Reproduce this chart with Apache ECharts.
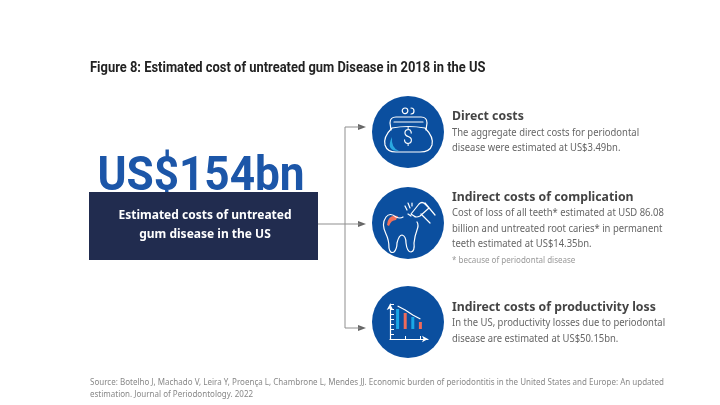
<!DOCTYPE html>
<html>
<head>
<meta charset="utf-8">
<script src="https://cdn.jsdelivr.net/npm/echarts@6/dist/echarts.min.js"></script>
<style>
  html, body { margin: 0; padding: 0; background: #fff; }
  #chart { width: 720px; height: 405px; }
</style>
</head>
<body>
<div id="chart"></div>
<script>
const titleText = "Figure 8: Estimated cost of untreated gum Disease in 2018 in the US";
const totalText = "US$154bn";
const boxLines = ["Estimated costs of untreated", "gum disease in the US"];
const headings = ["Direct costs", "Indirect costs of complication", "Indirect costs of productivity loss"];
const directLines = ["The aggregate direct costs for periodontal", "disease were estimated at US$3.49bn."];
const complicationLines = [
  "Cost of loss of all teeth* estimated at USD 86.08",
  "billion and untreated root caries* in permanent",
  "teeth estimated at US$14.35bn.",
];
const footnoteText = "* because of periodontal disease";
const productivityLines = ["In the US, productivity losses due to periodontal", "disease are estimated at US$50.15bn."];
const sourceLines = [
  "Source: Botelho J, Machado V, Leira Y, Proença L, Chambrone L, Mendes JJ. Economic burden of periodontitis in the United States and Europe: An updated",
  "estimation. Journal of Periodontology. 2022",
];
// the small bar icon in the third circle
const iconCategories = ["", "a", "b", "c", "d", " "];
const iconBars = [null, 20, 16, 12, 7, null];
const iconTrend = [null, 23, 19, 14, 10, null];

const blue = "#0b4f9f";
const navy = "#212c4f";
const bodyFont = "'Noto Sans'";

let shapeCount = 0;

function label(text, x, y, size, color, weight, family, align, squeeze) {
  return {
    type: "text",
    z: 5,
    x: x,
    y: y,
    scaleX: squeeze || 1,
    style: {
      text: text,
      x: 0,
      y: 0,
      fill: color,
      font: (weight || "normal") + " " + size + "px " + (family || bodyFont),
      textAlign: align || "left",
      textVerticalAlign: "middle",
    },
  };
}

function heading(text, y) {
  return label(text, 452, y, 13, "#444", "bold", null, "left", 0.945);
}

function body(text, y) {
  return label(text, 452, y, 10, "#666", "normal", null, "left", 0.945);
}

// graphic has no plain path type, so each svg path gets registered as a shape
function pathShape(d) {
  const name = "iconPath" + shapeCount++;
  echarts.graphic.registerShape(name, echarts.graphic.extendPath(d, {}));
  return name;
}

function stroke(d, color, width) {
  return {
    type: pathShape(d),
    z: 4,
    style: { fill: "none", stroke: color || "#fff", lineWidth: width || 1.2, lineCap: "round", lineJoin: "round" },
  };
}

function solid(d, color) {
  return { type: pathShape(d), z: 3, style: { fill: color } };
}

function arrowHead(y) {
  return solid("M358," + (y - 3) + " L366," + y + " L358," + (y + 3) + " Z", "#666");
}

function circle(cy) {
  return { type: "circle", z: 1, shape: { cx: 408, cy: cy, r: 36 }, style: { fill: blue } };
}

const elements = [
  label(titleText, 90, 68, 14, "#222", "bold", "Roboto", "left", 0.923),

  // big number sits behind the box
  label(totalText, 201, 178, 48, "#1c56a8", "bold", "Roboto", "center", 0.92),
  { type: "rect", z: 6, shape: { x: 89, y: 192, width: 229, height: 68 }, style: { fill: navy } },
  Object.assign(label(boxLines[0], 205, 216, 12, "#fff", "bold", null, "center"), { z: 7 }),
  Object.assign(label(boxLines[1], 205, 235, 12, "#fff", "bold", null, "center"), { z: 7 }),

  // connectors
  stroke("M318,224 L360,224", "#8f8f8f", 1),
  stroke("M360,127 L345,127 L345,328 L360,328", "#8f8f8f", 1),
  arrowHead(127),
  arrowHead(224),
  arrowHead(328),

  circle(132),
  circle(223),
  circle(322),

  // purse icon
  stroke("M405,108 a2.8,2.8 0 1 0 0.1,0 Z M411,108 a3,3 0 0 1 0,6"),
  stroke("M391,130 L390,123 Q390,117 396,117 L421,117 Q427,117 427,123 L426,130 M394,122 L423,122"),
  stroke("M392,128 Q383,137 385,145 Q387,152 396,152 L420,152 Q430,152 432,145 Q434,137 425,128 Q408,125 392,128 Z"),
  solid("M392,137 Q385,151 399,151 Q391,148 392,137 Z", "#2aa9e0"),
  label("$", 408, 139, 21, "#fff", "300", "Roboto", "center", 0.85),

  // tooth icon
  solid("M387,225 Q388,214 398,216 L396,220 Q391,220 389,226 Z", "#f0705a"),
  stroke("M403,217 Q400,219 396,217 Q390,212 386,217 Q381,224 386,234 Q389,240 389,248 Q390,254 394,252 Q397,249 397,243 Q399,235 402,235 Q406,236 406,243 Q407,252 411,252 Q415,251 414,243 Q415,235 417,230 Q419,225 417,222"),
  stroke("M411,214 L419,204 Q422,201 425,204 L429,208 L420,216 Q416,218 414,216 Z M425,203 L435,215 M421,214 L430,223 M408,214 L411,216"),
  stroke("M405,206 L407,210 M408,203 L410,208 M412,203 L412,206"),

  heading(headings[0], 116),
  body(directLines[0], 133),
  body(directLines[1], 148),

  heading(headings[1], 197),
  body(complicationLines[0], 213),
  body(complicationLines[1], 229),
  body(complicationLines[2], 244),
  label(footnoteText, 452, 261, 8, "#999"),

  heading(headings[2], 307),
  body(productivityLines[0], 323),
  body(productivityLines[1], 339),

  label(sourceLines[0], 90, 382, 9, "#888", "normal", null, "left", 0.89),
  label(sourceLines[1], 90, 394, 9, "#888", "normal", null, "left", 0.89),
];

const chart = echarts.init(document.getElementById("chart"));
const option = {
  animation: false,
  backgroundColor: "#fff",
  graphic: { elements: elements },
  grid: { left: 390, width: 38, top: 304, height: 35, containLabel: false },
  xAxis: {
    type: "category",
    z: 3,
    data: iconCategories,
    boundaryGap: false,
    axisLine: { onZero: false, symbol: ["none", "arrow"], symbolSize: [5, 6], lineStyle: { color: "#fff", width: 1.2 } },
    axisTick: { show: true, inside: true, length: 3, alignWithLabel: true, lineStyle: { color: "#fff", width: 1 } },
    axisLabel: { show: false },
    splitLine: { show: false },
  },
  yAxis: {
    type: "value",
    z: 3,
    min: -10,
    max: 25,
    interval: 5,
    axisLine: { show: true, onZero: false, symbol: ["none", "arrow"], symbolSize: [5, 6], lineStyle: { color: "#fff", width: 1.2 } },
    axisTick: { show: true, inside: true, length: 4, lineStyle: { color: "#fff", width: 1 } },
    axisLabel: { show: false },
    splitLine: { show: false },
  },
  series: [
    {
      type: "bar",
      z: 6,
      data: iconBars,
      barWidth: 3,
      itemStyle: {
        color: function (p) {
          return p.dataIndex % 2 === 1 ? "#19a7e6" : "#ef6a5a";
        },
      },
    },
    {
      type: "line",
      z: 6,
      data: iconTrend,
      symbol: "none",
      connectNulls: false,
      lineStyle: { color: "#fff", width: 1.2 },
    },
  ],
};
chart.setOption(option);
</script>
</body>
</html>
